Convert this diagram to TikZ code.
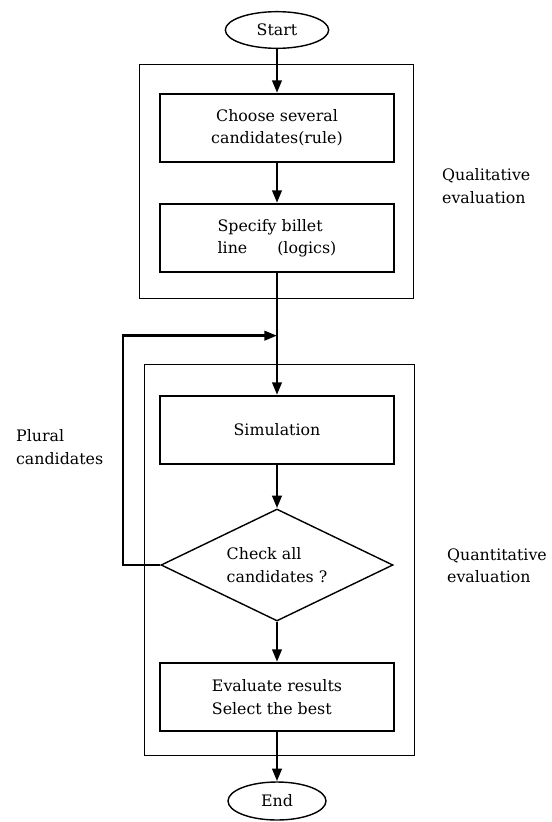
\documentclass[tikz,border=0pt]{standalone}
\usepackage{amsmath,amssymb}
\usepackage{fontspec}
\setmainfont{DejaVu Serif}
\usepackage{tikz}
\usetikzlibrary{shapes.geometric,positioning,arrows.meta}

\begin{document}
\begin{tikzpicture}[node distance=3cm,on grid,
    font=\fontsize{13.5}{19}\selectfont,
    terminal/.style={ellipse,draw,line width=1.2pt,minimum width=3.1cm,minimum height=1.1cm,inner sep=0pt},
    process/.style={rectangle,draw,line width=1.5pt,minimum width=7cm,minimum height=2.05cm},
    decision/.style={diamond,aspect=2.07,draw,line width=1.2pt,minimum width=6.96cm,minimum height=3.36cm,inner sep=0pt},
    group/.style={draw,line width=0.6pt},
    flow/.style={-{Triangle[length=3.8mm,width=2.8mm]},line width=2.4pt}]
    \useasboundingbox (-8.31,0.9) rectangle (8.22,-23.76);

    \draw[group] (-4.14,-1.02) rectangle (4.08,-8.04);
    \draw[group] (-3.99,-10.02) rectangle (4.11,-21.75);

    \node[terminal] (start) {Start};
    \node[process,align=center] (choose) [below=2.94cm of start] {Choose several\\candidates(rule)};
    \node[process,align=left] (specify) [below=3.3cm of choose] {Specify billet\\line\hspace{0.9cm}(logics)};
    \node[process] (simul) [below=5.76cm of specify] {Simulation};
    \node[decision,align=left] (check) [below=4.05cm of simul] {Check all\\candidates ?};
    \node[process,align=left] (evaluate) [below=3.96cm of check] {Evaluate results\\Select the best};
    \node[terminal,minimum width=2.94cm,minimum height=1.14cm] (end) [below=3.12cm of evaluate] {End};

    \coordinate[below=2.93cm of specify] (join);
    \coordinate[left=4.62cm of join] (loop);

    \node[align=left,anchor=west] (qual) at (4.83,-4.68) {Qualitative\\evaluation};
    \node[align=left,anchor=west] (quant) at (4.98,-16.08) {Quantitative\\evaluation};
    \node[align=left,anchor=west] (plural) at (-7.95,-12.51) {Plural\\candidates};

    \path[flow]
    (start) edge (choose)
    (choose) edge (specify)
    (specify) edge (simul)
    (simul) edge (check)
    (check) edge (evaluate)
    (evaluate) edge (end);
    \draw[flow] (check.west) -| (loop) -- (join);
\end{tikzpicture}
\end{document}
